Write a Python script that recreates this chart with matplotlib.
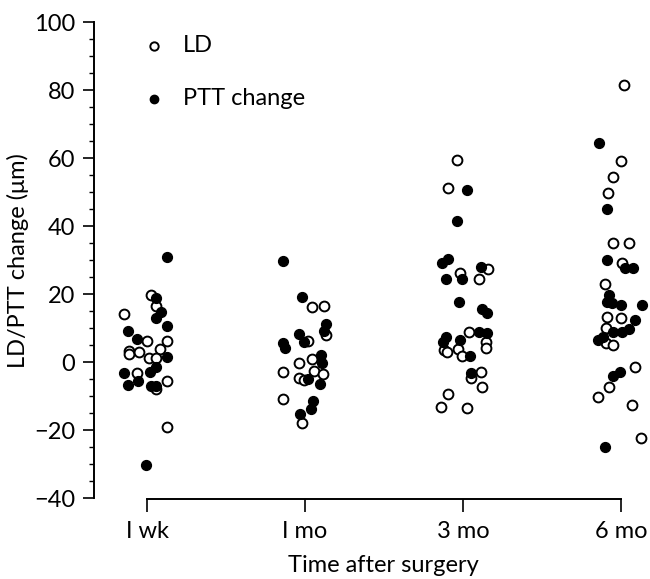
import numpy as np
import matplotlib
matplotlib.use("Agg")
import matplotlib.pyplot as plt
from matplotlib.ticker import MultipleLocator

plt.rcParams['font.family'] = ['Lato', 'DejaVu Sans']

groups = ["I wk", "I mo", "3 mo", "6 mo"]

# LD (open circles): horizontal jitter (category units) and value (um)
ld_wk1_jit = [0.025, 0.055, -0.143, 0.126, -0.002, -0.112, -0.112, -0.052, 0.084, 0.015, 0.057, -0.063, 0.126, 0.057, 0.126]
ld_wk1_val = [19.8, 16.6, 14.2, 6.3, 6.3, 3.3, 2.3, 3.1, 3.9, 1.2, 1.2, -3.1, -5.4, -7.9, -18.9]
ld_mo1_jit = [0.042, 0.118, 0.133, 0.021, 0.042, -0.040, -0.141, 0.059, -0.036, -0.004, 0.112, -0.141, -0.021]
ld_mo1_val = [16.4, 16.6, 8.0, 6.3, 1.0, -0.1, -2.9, -2.5, -4.7, -5.2, -3.5, -10.8, -17.9]
ld_mo3_jit = [-0.038, -0.097, -0.017, 0.156, 0.103, 0.040, 0.145, 0.145, -0.122, -0.101, -0.033, -0.008, 0.051, 0.114, 0.118, -0.097, -0.139, 0.025]
ld_mo3_val = [59.5, 51.2, 26.4, 27.4, 24.4, 8.8, 6.1, 4.1, 3.6, 2.9, 3.8, 1.9, -4.7, -2.8, -7.4, -9.4, -13.1, -13.5]
ld_mo6_jit = [0.019, -0.002, -0.052, -0.080, -0.052, 0.051, 0.004, -0.101, -0.090, -0.002, -0.095, -0.095, -0.049, 0.088, -0.074, -0.143, 0.068, 0.126]
ld_mo6_val = [81.6, 59.3, 54.4, 49.9, 35.2, 35.2, 29.1, 23.0, 13.4, 13.1, 10.0, 5.8, 5.1, -1.5, -7.2, -10.1, -12.6, -22.4]

# PTT change (filled circles)
ptt_wk1_jit = [0.126, 0.057, 0.088, 0.057, 0.126, -0.122, -0.063, 0.126, 0.057, 0.021, -0.143, -0.122, -0.055, 0.025, 0.057, -0.006]
ptt_wk1_val = [30.9, 18.8, 14.9, 12.9, 10.8, 9.3, 7.0, 1.5, -1.5, -2.8, -3.2, -6.6, -5.6, -6.9, -7.0, -30.2]
ptt_mo1_jit = [-0.141, -0.021, 0.133, 0.118, -0.040, -0.004, -0.141, -0.126, 0.101, 0.105, 0.021, 0.097, 0.049, 0.038, -0.030]
ptt_mo1_val = [29.8, 19.1, 11.3, 9.3, 8.3, 5.9, 5.6, 4.1, 2.1, -0.1, -4.9, -6.5, -11.3, -13.8, -15.3]
ptt_mo3_jit = [0.025, -0.038, -0.135, -0.097, -0.107, -0.008, 0.114, -0.027, 0.118, 0.152, 0.103, 0.152, -0.107, -0.128, -0.017, 0.047, 0.051]
ptt_mo3_val = [50.6, 41.7, 29.3, 30.3, 24.4, 24.4, 27.9, 17.8, 15.6, 14.6, 8.8, 8.7, 7.4, 6.1, 6.6, 1.9, -3.2]
ptt_mo6_jit = [-0.139, -0.090, -0.090, 0.025, 0.074, -0.074, -0.090, -0.059, -0.002, 0.131, 0.088, 0.051, 0.004, -0.049, -0.143, -0.112, -0.006, -0.049, -0.101]
ptt_mo6_val = [64.6, 45.0, 30.0, 27.6, 27.6, 19.8, 17.8, 17.3, 16.9, 16.9, 12.4, 9.7, 9.0, 9.0, 6.6, 7.3, -2.8, -4.0, -24.8]

ld_jit = [ld_wk1_jit, ld_mo1_jit, ld_mo3_jit, ld_mo6_jit]
ld_val = [ld_wk1_val, ld_mo1_val, ld_mo3_val, ld_mo6_val]
ptt_jit = [ptt_wk1_jit, ptt_mo1_jit, ptt_mo3_jit, ptt_mo6_jit]
ptt_val = [ptt_wk1_val, ptt_mo1_val, ptt_mo3_val, ptt_mo6_val]

fig = plt.figure(figsize=(6.5, 5.79), dpi=100)
ax = fig.add_axes([0.1452, 0.1376, 0.8548, 0.8239])

ms = 50
for i in range(4):
    x = i + np.array(ld_jit[i])
    ax.scatter(x, ld_val[i], s=ms, facecolors="white", edgecolors="black",
               linewidths=1.4, clip_on=False, zorder=3,
               label="LD" if i == 0 else None)
for i in range(4):
    x = i + np.array(ptt_jit[i])
    ax.scatter(x, ptt_val[i], s=ms, color="black", clip_on=False, zorder=4,
               label="PTT change" if i == 0 else None)

ax.set_xlim(-0.333, 3.183)
ax.set_ylim(-40.3, 100)

for s in ["top", "right"]:
    ax.spines[s].set_visible(False)
ax.spines["left"].set_bounds(-40, 100)
ax.spines["bottom"].set_bounds(0, 3)
ax.spines["left"].set_linewidth(1.4)
ax.spines["bottom"].set_linewidth(1.4)

ax.set_xticks(range(4))
ax.set_xticklabels(groups)
ax.yaxis.set_major_locator(MultipleLocator(20))
ax.yaxis.set_minor_locator(MultipleLocator(5))
ax.tick_params(axis="y", which="major", length=8, width=1.2, pad=6, labelsize=17)
ax.tick_params(axis="y", which="minor", length=3.5, width=1.0)
ax.tick_params(axis="x", which="major", length=9.5, width=1.2, pad=6, labelsize=17)

ax.set_ylabel("LD/PTT change (μm)", fontsize=17)
ax.yaxis.set_label_coords(-0.118, 0.5)
ax.set_xlabel("Time after surgery", fontsize=17)
ax.xaxis.set_label_coords(0.521, -0.116)

ax.legend(loc="upper left", bbox_to_anchor=(0.0857, 0.973), frameon=False,
          fontsize=17, handlelength=1.0, handletextpad=0.75, labelspacing=1.35,
          borderpad=0, borderaxespad=0, scatterpoints=1, markerscale=0.85)

fig.savefig("out.png", dpi=100)
